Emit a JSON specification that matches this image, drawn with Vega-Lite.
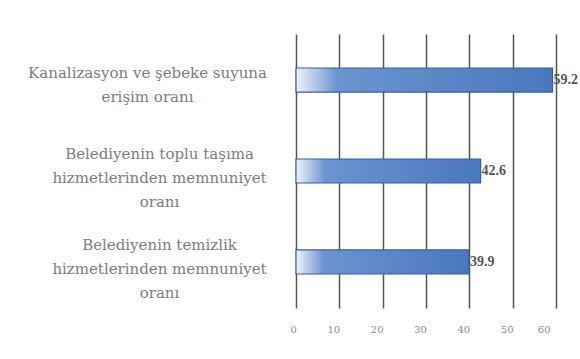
{
  "$schema": "https://vega.github.io/schema/vega-lite/v6.json",
  "autosize": "none",
  "width": 260,
  "height": 274,
  "padding": {"left": 296, "top": 34, "right": 24, "bottom": 51},
  "background": "white",
  "data": {
    "values": [
      {"label": "Kanalizasyon ve şebeke suyuna|erişim oranı", "value": 59.2},
      {"label": "Belediyenin toplu taşıma|hizmetlerinden memnuniyet|oranı", "value": 42.6},
      {"label": "Belediyenin temizlik|hizmetlerinden memnuniyet|oranı", "value": 39.9}
    ]
  },
  "encoding": {
    "y": {
      "field": "label",
      "type": "nominal",
      "sort": null,
      "scale": {"paddingInner": 0.736, "paddingOuter": 0.374},
      "axis": {
        "title": null,
        "domain": false,
        "ticks": false,
        "labelExpr": "split(datum.label, '|')",
        "labelAlign": "center",
        "labelPadding": {"condition": {"test": "indexof(datum.value, 'Kanal') >= 0", "value": 149}, "value": 137},
        "labelOffset": {"condition": {"test": "indexof(datum.value, 'Kanal') >= 0", "value": -7}, "value": -17},
        "labelFont": "DejaVu Serif",
        "labelFontSize": 15,
        "labelLineHeight": 24,
        "labelColor": "#7d7d7d",
        "labelLimit": 400
      }
    },
    "x": {
      "field": "value",
      "type": "quantitative",
      "scale": {"domain": [0, 60], "nice": false},
      "axis": {
        "title": null,
        "values": [0, 10, 20, 30, 40, 50, 60],
        "domain": false,
        "ticks": false,
        "grid": true,
        "gridColor": "#555555",
        "gridWidth": 1.5,
        "gridOpacity": 1,
        "labelFont": "DejaVu Serif",
        "labelFontSize": 10,
        "labelColor": "#8a8a8a",
        "labelPadding": 16,
        "labelOffset": -6
      }
    }
  },
  "layer": [
    {
      "mark": {
        "type": "bar",
        "stroke": "#33609f",
        "strokeWidth": 1.2,
        "color": {
          "gradient": "linear",
          "x1": 0, "y1": 0, "x2": 1, "y2": 0,
          "stops": [
            {"offset": 0, "color": "#eef3fb"},
            {"offset": 0.16, "color": "#6b94d0"},
            {"offset": 1, "color": "#4a78bd"}
          ]
        }
      }
    },
    {
      "mark": {
        "type": "text",
        "align": "left",
        "baseline": "middle",
        "dx": 1,
        "font": "Liberation Serif",
        "fontSize": 14,
        "fontWeight": "bold",
        "color": "#555555"
      },
      "encoding": {
        "text": {"field": "value", "type": "quantitative", "format": ".1f"}
      }
    }
  ],
  "config": {"view": {"stroke": null}}
}
